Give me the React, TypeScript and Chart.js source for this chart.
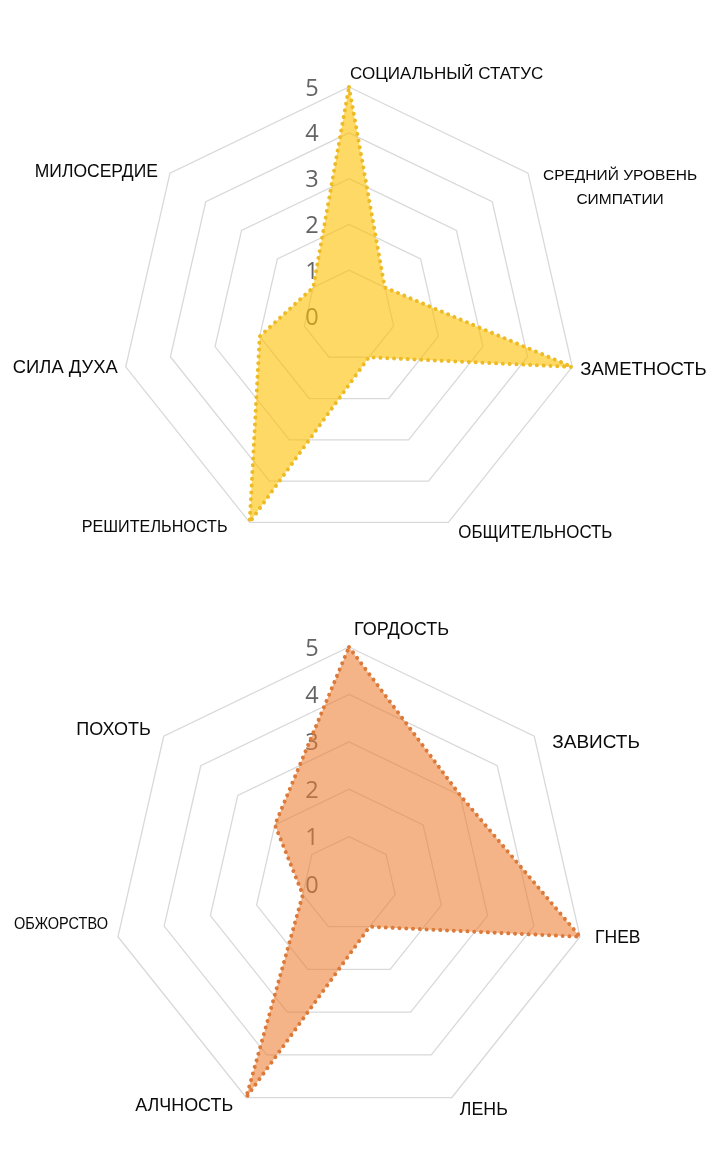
import { useEffect, useRef } from "react";
import { Chart, registerables } from "chart.js";
import type { Plugin } from "chart.js";

Chart.register(...registerables);

// --- data ---
const virtueLabels: (string | string[])[] = [
  "СОЦИАЛЬНЫЙ СТАТУС",
  ["СРЕДНИЙ УРОВЕНЬ", "СИМПАТИИ"],
  "ЗАМЕТНОСТЬ",
  "ОБЩИТЕЛЬНОСТЬ",
  "РЕШИТЕЛЬНОСТЬ",
  "СИЛА ДУХА",
  "МИЛОСЕРДИЕ",
];
const virtueValues = [5, 1, 5, 1, 5, 2, 1];

const sinLabels: (string | string[])[] = [
  "ГОРДОСТЬ",
  "ЗАВИСТЬ",
  "ГНЕВ",
  "ЛЕНЬ",
  "АЛЧНОСТЬ",
  "ОБЖОРСТВО",
  "ПОХОТЬ",
];
const sinValues = [5, 3, 5, 1, 5, 1, 2];

const scaleMin = 0;
const scaleMax = 5;
const scaleStep = 1;

// --- label layout (offsets from the outer vertex, text middle) ---
interface LabelStyle {
  align: CanvasTextAlign;
  dx: number;
  dy: number;
  size: number;
  width: number;
  lineHeight?: number;
}

const virtueLabelStyles: LabelStyle[] = [
  { align: "left", dx: 1, dy: -13, size: 17, width: 196 },
  { align: "center", dx: 92, dy: 2, size: 15.5, width: 158, lineHeight: 24 },
  { align: "left", dx: 8, dy: 3, size: 18.5, width: 128 },
  { align: "left", dx: 10, dy: 11, size: 18, width: 154 },
  { align: "right", dx: -22, dy: 5, size: 17, width: 146 },
  { align: "right", dx: -8, dy: 1, size: 18.5, width: 105 },
  { align: "right", dx: -12, dy: -1, size: 17.5, width: 126 },
];

const sinLabelStyles: LabelStyle[] = [
  { align: "left", dx: 5, dy: -17, size: 18, width: 98 },
  { align: "left", dx: 18, dy: 7, size: 19, width: 88 },
  { align: "left", dx: 15, dy: 1, size: 17.5, width: 46 },
  { align: "left", dx: 8, dy: 13, size: 18, width: 48 },
  { align: "right", dx: -13, dy: 9, size: 18, width: 98 },
  { align: "right", dx: -10, dy: -12, size: 16, width: 94 },
  { align: "right", dx: -13, dy: -6, size: 18, width: 75 },
];

function makeTextPlugin(labelStyles: LabelStyle[]): Plugin<"radar"> {
  return {
    id: "radarText",
    // tick numbers sit under the translucent fill
    beforeDatasetsDraw(chart) {
      const scale: any = chart.scales.r;
      const ctx = chart.ctx;
      ctx.save();
      ctx.font = '23.5px "Open Sans", sans-serif';
      ctx.fillStyle = "#646464";
      ctx.textAlign = "center";
      ctx.textBaseline = "middle";
      scale.ticks.forEach((t: { value: number }) => {
        const d = scale.getDistanceFromCenterForValue(t.value);
        ctx.fillText(String(t.value), scale.xCenter - 37, scale.yCenter - d + 2);
      });
      ctx.restore();
    },
    afterDraw(chart) {
      const scale: any = chart.scales.r;
      const ctx = chart.ctx;
      const labels = chart.data.labels as (string | string[])[];
      ctx.save();
      ctx.fillStyle = "#0a0a0a";
      ctx.textBaseline = "middle";
      labels.forEach((lab, i) => {
        const st = labelStyles[i];
        const p = scale.getPointPosition(i, scale.drawingArea);
        const lines = Array.isArray(lab) ? lab : [lab];
        ctx.font = `${st.size}px "Liberation Sans", Arial, sans-serif`;
        ctx.textAlign = st.align;
        lines.forEach((line, k) => {
          ctx.fillText(line, p.x + st.dx, p.y + st.dy + k * (st.lineHeight ?? 0), st.width);
        });
      });
      ctx.restore();
    },
  };
}

interface PanelProps {
  labels: (string | string[])[];
  values: number[];
  fill: string;
  border: string;
  height: number;
  padding: { left: number; right: number; top: number; bottom: number };
  labelStyles: LabelStyle[];
}

function RadarPanel({ labels, values, fill, border, height, padding, labelStyles }: PanelProps) {
  const canvasRef = useRef<HTMLCanvasElement>(null);

  useEffect(() => {
    if (!canvasRef.current) return;
    const chart = new Chart(canvasRef.current, {
      type: "radar",
      data: {
        labels,
        datasets: [
          {
            data: values,
            backgroundColor: fill,
            borderColor: border,
            borderWidth: 4,
            borderDash: [0.01, 6.8],
            borderCapStyle: "round",
            borderJoinStyle: "round",
            pointRadius: 0,
            pointHoverRadius: 0,
            fill: true,
            tension: 0,
          },
        ],
      },
      options: {
        responsive: false,
        animation: false,
        layout: { padding },
        plugins: {
          legend: { display: false },
          tooltip: { enabled: false },
        },
        scales: {
          r: {
            min: scaleMin,
            max: scaleMax,
            beginAtZero: true,
            ticks: { stepSize: scaleStep, display: false },
            grid: { circular: false, color: "#D9D9D9", lineWidth: 1.3 },
            angleLines: { display: false },
            pointLabels: { display: false },
          },
        },
      },
      plugins: [makeTextPlugin(labelStyles)],
    });
    return () => {
      chart.destroy();
    };
  }, []);

  return <canvas ref={canvasRef} width={720} height={height} style={{ display: "block" }} />;
}

export default function App() {
  useEffect(() => {
    document.body.style.margin = "0";
    document.body.style.background = "#ffffff";
  }, []);

  return (
    <div style={{ width: 720, background: "#ffffff" }}>
      <RadarPanel
        labels={virtueLabels}
        values={virtueValues}
        fill="rgba(255, 192, 0, 0.6)"
        border="#EDBB25"
        height={580}
        padding={{ left: 120, right: 142, top: 87, bottom: 35 }}
        labelStyles={virtueLabelStyles}
      />
      <RadarPanel
        labels={sinLabels}
        values={sinValues}
        fill="rgba(237, 125, 49, 0.58)"
        border="#DB7A3A"
        height={579}
        padding={{ left: 112, right: 134, top: 67, bottom: 38 }}
        labelStyles={sinLabelStyles}
      />
    </div>
  );
}
